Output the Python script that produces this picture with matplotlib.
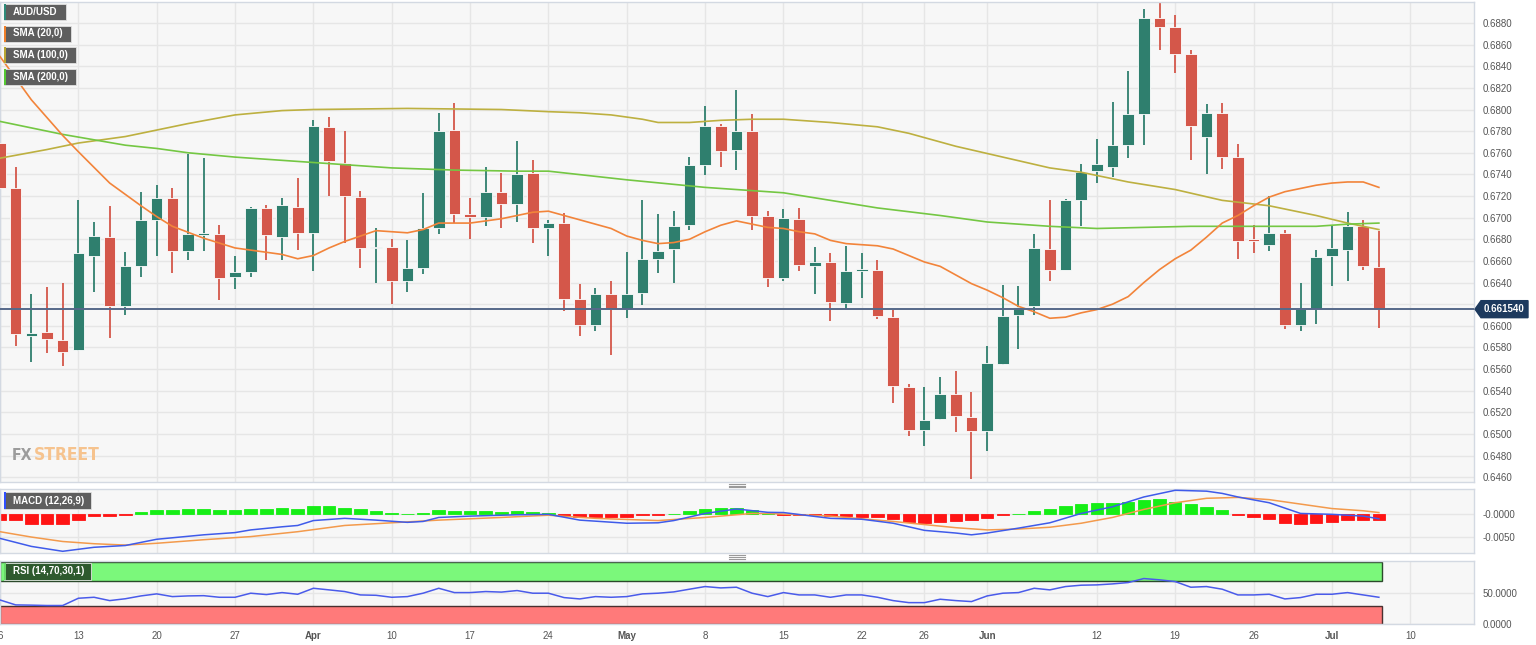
import matplotlib
matplotlib.use('Agg')
import matplotlib.pyplot as plt
from matplotlib.patches import Rectangle, Polygon
from matplotlib.lines import Line2D
import matplotlib.transforms as mtransforms

plt.rcParams['font.family'] = ['Liberation Sans', 'DejaVu Sans']

# ---------------- data (trading-day index 0 = Mar 6) ----------------
tick_idx = [0, 5, 10, 15, 20, 25, 30, 35, 40, 45, 50, 55, 59, 63, 70, 75, 80, 85, 90]
tick_lbl = ['6', '13', '20', '27', 'Apr', '10', '17', '24', 'May', '8', '15', '22', '26', 'Jun',
            '12', '19', '26', 'Jul', '10']
month_lbls = ['Apr', 'May', 'Jun', 'Jul']

opens = [0.6769, 0.6727, 0.6591, 0.6594, 0.6587, 0.6578, 0.6665, 0.6682, 0.6618, 0.6655,
         0.6698, 0.6718, 0.6669, 0.6684, 0.6685, 0.6645, 0.6650, 0.6709, 0.6682, 0.6710,
         0.6686, 0.6784, 0.6751, 0.6719, 0.6672, 0.6673, 0.6641, 0.6653, 0.6690, 0.6781,
         0.6703, 0.6701, 0.6724, 0.6713, 0.6741, 0.6690, 0.6695, 0.6625, 0.6601, 0.6629,
         0.6616, 0.6630, 0.6662, 0.6671, 0.6693, 0.6749, 0.6785, 0.6763, 0.6780, 0.6702,
         0.6644, 0.6699, 0.6655, 0.6659, 0.6621, 0.6651, 0.6652, 0.6608, 0.6543, 0.6504,
         0.6514, 0.6537, 0.6516, 0.6503, 0.6565, 0.6610, 0.6618, 0.6671, 0.6652, 0.6716,
         0.6743, 0.6747, 0.6767, 0.6796, 0.6885, 0.6876, 0.6851, 0.6775, 0.6797, 0.6756,
         0.6680, 0.6675, 0.6686, 0.6601, 0.6616, 0.6665, 0.6670, 0.6692, 0.6654]
highs = [0.6772, 0.6747, 0.6629, 0.6636, 0.6640, 0.6716, 0.6696, 0.6711, 0.6668, 0.6724,
         0.6730, 0.6727, 0.6759, 0.6755, 0.6693, 0.6665, 0.6710, 0.6712, 0.6718, 0.6737,
         0.6790, 0.6793, 0.6780, 0.6725, 0.6690, 0.6680, 0.6679, 0.6723, 0.6797, 0.6806,
         0.6718, 0.6747, 0.6741, 0.6771, 0.6753, 0.6698, 0.6704, 0.6639, 0.6635, 0.6641,
         0.6668, 0.6716, 0.6703, 0.6706, 0.6756, 0.6803, 0.6787, 0.6818, 0.6796, 0.6706,
         0.6708, 0.6709, 0.6673, 0.6667, 0.6674, 0.6667, 0.6661, 0.6615, 0.6546, 0.6543,
         0.6553, 0.6558, 0.6539, 0.6581, 0.6638, 0.6637, 0.6685, 0.6716, 0.6717, 0.6750,
         0.6773, 0.6807, 0.6836, 0.6893, 0.6900, 0.6887, 0.6855, 0.6805, 0.6806, 0.6768,
         0.6693, 0.6720, 0.6689, 0.6640, 0.6670, 0.6692, 0.6705, 0.6698, 0.6688]
lows = [0.6716, 0.6581, 0.6567, 0.6575, 0.6563, 0.6577, 0.6631, 0.6589, 0.6610, 0.6645,
        0.6665, 0.6649, 0.6661, 0.6669, 0.6624, 0.6634, 0.6645, 0.6661, 0.6661, 0.6670,
        0.6651, 0.6720, 0.6677, 0.6653, 0.6640, 0.6620, 0.6631, 0.6648, 0.6685, 0.6695,
        0.6680, 0.6692, 0.6690, 0.6696, 0.6677, 0.6665, 0.6614, 0.6591, 0.6595, 0.6573,
        0.6607, 0.6619, 0.6649, 0.6640, 0.6689, 0.6739, 0.6747, 0.6744, 0.6689, 0.6636,
        0.6641, 0.6651, 0.6629, 0.6604, 0.6616, 0.6626, 0.6606, 0.6529, 0.6498, 0.6489,
        0.6513, 0.6502, 0.6458, 0.6484, 0.6564, 0.6579, 0.6610, 0.6641, 0.6652, 0.6692,
        0.6732, 0.6738, 0.6755, 0.6767, 0.6855, 0.6834, 0.6753, 0.6740, 0.6745, 0.6662,
        0.6667, 0.6669, 0.6597, 0.6595, 0.6602, 0.6637, 0.6641, 0.6652, 0.6598]
closes = [0.6727, 0.6592, 0.6593, 0.6588, 0.6576, 0.6667, 0.6683, 0.6618, 0.6655, 0.6698,
          0.6718, 0.6669, 0.6685, 0.6686, 0.6644, 0.6650, 0.6709, 0.6684, 0.6712, 0.6686,
          0.6785, 0.6752, 0.6720, 0.6672, 0.6673, 0.6641, 0.6653, 0.6690, 0.6780, 0.6703,
          0.6701, 0.6724, 0.6713, 0.6740, 0.6690, 0.6695, 0.6625, 0.6601, 0.6629, 0.6616,
          0.6629, 0.6662, 0.6669, 0.6692, 0.6749, 0.6785, 0.6762, 0.6780, 0.6702, 0.6644,
          0.6700, 0.6656, 0.6659, 0.6622, 0.6651, 0.6652, 0.6609, 0.6544, 0.6504, 0.6513,
          0.6537, 0.6517, 0.6503, 0.6566, 0.6609, 0.6617, 0.6672, 0.6652, 0.6716, 0.6742,
          0.6750, 0.6767, 0.6796, 0.6885, 0.6876, 0.6851, 0.6785, 0.6797, 0.6756, 0.6678,
          0.6678, 0.6686, 0.6601, 0.6616, 0.6664, 0.6672, 0.6692, 0.6655, 0.66154]
last_price = 0.66154
last_label = '0.661540'

sma20_idx = [0, 2, 4, 5, 7, 9, 10, 11, 13, 15, 16, 17, 18, 19, 20, 21, 22, 23, 24, 25, 26, 27,
             28, 29, 30, 31, 32, 33, 34, 35, 36, 37, 38, 39, 40, 41, 42, 43, 44, 45, 46, 47,
             48, 49, 50, 51, 52, 53, 54, 55, 56, 57, 58, 59, 60, 61, 62, 63, 64, 65, 66, 67,
             68, 69, 70, 71, 72, 73, 74, 75, 76, 77, 78, 79, 80, 81, 82, 83, 84, 85, 86, 87, 88]
sma20_val = [0.6849, 0.6809, 0.6776, 0.6761, 0.6732, 0.6711, 0.6701, 0.6692, 0.6681, 0.6672,
             0.6670, 0.6668, 0.6666, 0.6662, 0.6665, 0.6672, 0.6678, 0.6683, 0.6688, 0.6687,
             0.6686, 0.6689, 0.6695, 0.6695, 0.6695, 0.6697, 0.6699, 0.6702, 0.6705, 0.6706,
             0.6702, 0.6698, 0.6694, 0.6690, 0.6683, 0.6679, 0.6676, 0.6677, 0.6680, 0.6687,
             0.6693, 0.6697, 0.6694, 0.6691, 0.6690, 0.6687, 0.6685, 0.6679, 0.6676, 0.6675,
             0.6674, 0.6671, 0.6665, 0.6659, 0.6655, 0.6647, 0.6639, 0.6633, 0.6626, 0.6618,
             0.6613, 0.6607, 0.6608, 0.6612, 0.6615, 0.6620, 0.6627, 0.6640, 0.6652, 0.6662,
             0.6670, 0.6682, 0.6695, 0.6702, 0.6711, 0.6719, 0.6724, 0.6727, 0.6730, 0.6732,
             0.6733, 0.6733, 0.6728]

sma100_idx = [0, 3, 5, 8, 10, 12, 15, 18, 20, 26, 32, 35, 37, 39, 41, 42, 44, 46, 48, 50, 53,
              56, 58, 61, 64, 67, 69, 72, 75, 78, 81, 84, 86, 88]
sma100_val = [0.6755, 0.6763, 0.6769, 0.6775, 0.6781, 0.6787, 0.6795, 0.6799, 0.6800, 0.6801,
              0.6800, 0.6798, 0.6797, 0.6795, 0.6791, 0.6788, 0.6788, 0.6790, 0.6791, 0.6791,
              0.6788, 0.6784, 0.6778, 0.6766, 0.6756, 0.6746, 0.6742, 0.6733, 0.6726, 0.6716,
              0.6711, 0.6702, 0.6695, 0.6689]

sma200_idx = [0, 4, 6, 8, 10, 12, 15, 17, 20, 25, 29, 33, 35, 40, 45, 48, 50, 53, 56, 60, 63,
              67, 70, 76, 81, 84, 86, 88]
sma200_val = [0.6789, 0.6777, 0.6772, 0.6767, 0.6764, 0.6760, 0.6756, 0.6754, 0.6751, 0.6746,
              0.6744, 0.6743, 0.6743, 0.6735, 0.6728, 0.6725, 0.6723, 0.6716, 0.6709, 0.6702,
              0.6696, 0.6692, 0.6690, 0.6692, 0.6692, 0.6692, 0.6694, 0.6695]

macd_hist = [-0.0012, -0.0013, -0.0021, -0.0022, -0.0021, -0.0013, -0.0004, -0.0003, -0.0001, 0.00045,
             0.00097, 0.00097, 0.00112, 0.00112, 0.00089, 0.00089, 0.00112, 0.00112, 0.00134, 0.00126,
             0.00186, 0.00186, 0.00149, 0.00112, 0.00074, 0.00037, 0.00015, 0.00022, 0.00089, 0.00082,
             0.00067, 0.00067, 0.0006, 0.00067, 0.00045, 0.0003, -0.0003, -0.00052, -0.0006, -0.00052,
             -0.00052, -0.00022, -0.00007, 0.00015, 0.00074, 0.00126, 0.00141, 0.00149, 0.00097, 0.0003,
             -0.0001, -0.0002, -0.0002, -0.0004, -0.0004, -0.0005, -0.0005, -0.00104, -0.00179, -0.00186,
             -0.00164, -0.00149, -0.00126, -0.00089, -0.00015, 0.00015, 0.00082, 0.00119, 0.00186, 0.00231,
             0.00246, 0.0026, 0.00275, 0.0032, 0.00335, 0.00283, 0.00223, 0.00171, 0.00097, -0.00007,
             -0.00067, -0.00112, -0.00186, -0.00208, -0.00186, -0.00164, -0.00126, -0.00126, -0.00134]

macd_idx = [0, 2, 4, 6, 8, 10, 13, 15, 16, 18, 19, 20, 22, 24, 26, 27, 28, 30, 33, 35, 37, 40, 42,
            43, 45, 47, 49, 50, 53, 55, 57, 59, 61, 62, 63, 65, 67, 69, 71, 73, 75, 77, 78, 79,
            81, 83, 85, 87, 88]
macd_val = [-0.0054, -0.0072, -0.0083, -0.0074, -0.0070, -0.0056, -0.0046, -0.0041, -0.0035,
            -0.0028, -0.0025, -0.0014, -0.0009, -0.0013, -0.0018, -0.0016, -0.0007, -0.0004,
            -0.0001, 0.0000, -0.0013, -0.0020, -0.0019, -0.0014, 0.0002, 0.0012, 0.00045, 0.0004,
            -0.0009, -0.0011, -0.0020, -0.0036, -0.0042, -0.0046, -0.0042, -0.0031, -0.0019,
            0.0002, 0.0017, 0.0039, 0.0054, 0.0052, 0.0047, 0.0039, 0.0026, 0.0002, 0.0000,
            -0.0004, -0.0010]

signal_idx = [0, 2, 4, 6, 8, 10, 13, 16, 19, 22, 25, 28, 32, 35, 38, 42, 45, 48, 49, 53, 57, 61,
              63, 65, 67, 69, 71, 73, 75, 77, 79, 81, 83, 85, 87, 88]
signal_val = [-0.0039, -0.0051, -0.0061, -0.0066, -0.0069, -0.0065, -0.0057, -0.0050, -0.0039,
              -0.0025, -0.0019, -0.0013, -0.0007, -0.0002, -0.0009, -0.0014, -0.0007, 0.0002,
              0.0002, -0.0004, -0.0016, -0.0030, -0.0035, -0.0033, -0.0029, -0.0020, -0.0007,
              0.0011, 0.0026, 0.0036, 0.0038, 0.0033, 0.0023, 0.0013, 0.0008, 0.0004]

rsi = [39, 31, 30.6, 30, 30, 41.8, 43.4, 38, 41, 45.6,
       48.9, 44.5, 45.6, 46, 43.4, 43.4, 50, 47.8, 51, 48.3,
       58, 55.4, 52.7, 47.2, 46.6, 43.4, 44.5, 50, 58, 51,
       51, 52.7, 51.8, 54.3, 50, 50, 42.9, 40.7, 44.5, 43.4,
       44.5, 48.9, 50, 52.1, 56.5, 60.8, 58.6, 59.7, 50, 44.5,
       51, 47.2, 47.2, 43.4, 47.2, 47.2, 43.4, 38, 34.7, 34.7,
       40.2, 38, 36.4, 45.6, 50, 51, 58, 55.4, 60.8, 63,
       63.5, 65.1, 67.3, 73.8, 71.7, 68.9, 59.7, 60.8, 56.5, 47.2,
       47.2, 48.3, 40.7, 42.9, 48.3, 48.3, 51, 47.2, 43.4]

price_ticks = [0.6460, 0.6480, 0.6500, 0.6520, 0.6540, 0.6560, 0.6580, 0.6600, 0.6620, 0.6640,
               0.6660, 0.6680, 0.6700, 0.6720, 0.6740, 0.6760, 0.6780, 0.6800, 0.6820, 0.6840,
               0.6860, 0.6880]
macd_ticks = [0.0, -0.005]
macd_tick_lbl = ['-0.0000', '-0.0050']
rsi_ticks = [0, 50]
rsi_tick_lbl = ['0.0000', '50.0000']

# ---------------- figure ----------------
W, H = 1536, 645
fig = plt.figure(figsize=(W / 100, H / 100), dpi=100, facecolor='white')


def rect(x0, y0, x1, y1):
    return [x0 / W, 1 - y1 / H, (x1 - x0) / W, (y1 - y0) / H]


def fx(x):
    return x / W


def fy(y):
    return 1 - y / H


BG = '#F7F7F7'
GRID = '#E6E6E6'
SPINE = '#D3D9E2'
TXT = '#555555'
UP = '#2F7F6E'
DOWN = '#D4574A'

ax = fig.add_axes(rect(0, 2, 1474, 482))
axm = fig.add_axes(rect(0, 488.5, 1474, 552.5))
axr = fig.add_axes(rect(0, 560.5, 1474, 624))
XMIN, XMAX = 0, 94.07
for a in (ax, axm, axr):
    a.set_facecolor(BG)
    a.set_xlim(XMIN, XMAX)
    for s in a.spines.values():
        s.set_color(SPINE)
        s.set_linewidth(1)
    a.yaxis.tick_right()
    a.tick_params(axis='both', length=0, labelsize=7, labelcolor=TXT, pad=6)
    for t in tick_idx:
        a.axvline(t, color=GRID, lw=1, zorder=0)
    a.yaxis.grid(True, color=GRID, lw=1, zorder=0)
    a.set_axisbelow(True)

# ---------------- main price panel ----------------
ax.set_ylim(0.64556, 0.68994)
ax.set_yticks(price_ticks)
ax.set_yticklabels(['%.4f' % v for v in price_ticks])
ax.set_xticks([])

n = len(closes)
bw = 0.74
min_h = 0.00012
for i in range(n):
    o, h, l, c = opens[i], highs[i], lows[i], closes[i]
    col = UP if c >= o else DOWN
    ax.plot([i, i], [l, h], color=col, lw=1.3, zorder=2, solid_capstyle='butt')
    bottom = min(o, c)
    height = max(abs(c - o), min_h)
    ax.add_patch(Rectangle((i - bw / 2, bottom), bw, height, facecolor=col,
                           edgecolor='#FFFFFF', lw=0.6, zorder=3))

ax.plot(sma100_idx, sma100_val, color='#BDB040', lw=1.2, zorder=4)
ax.plot(sma200_idx, sma200_val, color='#74C743', lw=1.2, zorder=4)
ax.plot(sma20_idx, sma20_val, color='#F2843A', lw=1.2, zorder=4)

ax.axhline(last_price, color='#56698A', lw=1.4, zorder=5)

# price tag on right axis (covers the 0.6620 label, as in the original)
trans = mtransforms.blended_transform_factory(fig.transFigure, ax.transData)
hh = 8.5 / 10816
tag = Polygon([(fx(1475), last_price), (fx(1481), last_price + hh), (fx(1528), last_price + hh),
               (fx(1528), last_price - hh), (fx(1481), last_price - hh)], closed=True,
              transform=trans, facecolor='#1D3A5E', edgecolor='#1D3A5E', clip_on=False, zorder=6)
ax.add_patch(tag)
ax.text(fx(1504.5), last_price, last_label, transform=trans, color='white', fontsize=7,
        fontweight='bold', ha='center', va='center', clip_on=False, zorder=7)

# ---------------- MACD panel ----------------
axm.set_ylim(-0.00857, 0.0058)
axm.set_yticks(macd_ticks)
axm.set_yticklabels(macd_tick_lbl)
axm.set_xticks([])
xs = list(range(len(macd_hist)))
cols = ['#16EE16' if v >= 0 else '#FF1414' for v in macd_hist]
axm.bar(xs, macd_hist, width=0.8, color=cols, edgecolor=cols, lw=0.6, zorder=2)
axm.plot(signal_idx, signal_val, color='#F39A4C', lw=1.1, zorder=3)
axm.plot(macd_idx, macd_val, color='#3F5BEA', lw=1.1, zorder=4)

# ---------------- RSI panel ----------------
axr.set_ylim(0, 103.1)
axr.set_yticks(rsi_ticks)
axr.set_yticklabels(rsi_tick_lbl)
axr.add_patch(Rectangle((XMIN, 70), 88.2 - XMIN, 30, facecolor='#7BF87B', edgecolor='#2C4A2C',
                        lw=1.0, zorder=1))
axr.add_patch(Rectangle((XMIN, 0), 88.2 - XMIN, 30, facecolor='#FF7A7A', edgecolor='#4A3030',
                        lw=1.0, zorder=1))
axr.plot(range(len(rsi)), rsi, color='#4A5BEA', lw=1.1, zorder=3)
axr.set_xticks(tick_idx)
axr.set_xticklabels(tick_lbl)
axr.tick_params(axis='x', pad=5)
for lab in axr.get_xticklabels():
    if lab.get_text() in month_lbls:
        lab.set_fontweight('bold')

# ---------------- legend boxes ----------------
def label_box(x0, y0, x1, y1, text, bg, strip):
    fig.add_artist(Rectangle((fx(x0), fy(y1)), fx(x1) - fx(x0), fy(y0) - fy(y1),
                             transform=fig.transFigure, facecolor=bg, edgecolor='#E0E0E0',
                             lw=0.6, zorder=20))
    fig.add_artist(Rectangle((fx(x0), fy(y1)), fx(x0 + 2) - fx(x0), fy(y0) - fy(y1),
                             transform=fig.transFigure, facecolor=strip, edgecolor='none',
                             zorder=21))
    fig.text(fx(x0 + 9), fy((y0 + y1) / 2), text, color='white', fontsize=7, fontweight='bold',
             ha='left', va='center', zorder=22)


label_box(4, 4, 66, 20, 'AUD/USD', '#5E5E5E', '#2E8B7A')
label_box(4, 25.5, 71, 41.5, 'SMA (20,0)', '#5E5E5E', '#F07F2A')
label_box(4, 47, 76, 63, 'SMA (100,0)', '#5E5E5E', '#B8A632')
label_box(4, 69, 76, 85, 'SMA (200,0)', '#5E5E5E', '#55C832')
label_box(4, 492, 91, 509, 'MACD (12,26,9)', '#5E5E5E', '#2F4FFF')
label_box(4, 563, 91, 580, 'RSI (14,70,30,1)', '#2E5A2E', '#6BD86B')

# panel drag handles
for yc in (485.5, 557.0):
    for dy in (-1.8, 0, 1.8):
        fig.add_artist(Line2D([fx(729), fx(745)], [fy(yc + dy), fy(yc + dy)],
                              transform=fig.transFigure, color='#9A9A9A', lw=0.8, zorder=20))

# watermark (real text, font size fitted to the logo's width)
wm_family = ['DejaVu Sans']
renderer = fig.canvas.get_renderer()


def fitted_text(x0, yc, s, target_w, color):
    t = fig.text(fx(x0), fy(yc), s, color=color, fontsize=20, fontweight='bold',
                 family=wm_family, fontstretch='condensed', ha='left', va='center', zorder=1)
    w = t.get_window_extent(renderer).width
    t.set_fontsize(20 * target_w / w)
    return t


fitted_text(11.5, 455, 'FX', 20.5, '#9C9C9C')
fitted_text(33.5, 455, 'STREET', 66, '#F6C38E')

fig.savefig('out.png', dpi=100, facecolor='white')
